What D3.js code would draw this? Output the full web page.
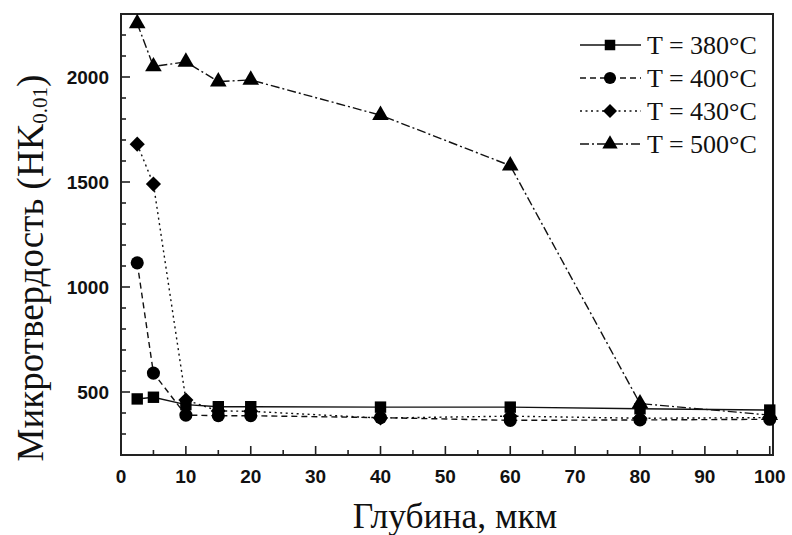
<!DOCTYPE html>
<html><head><meta charset="utf-8">
<script src="https://cdn.jsdelivr.net/npm/d3@7"></script>
<style>body{margin:0;background:#fff}</style>
</head><body>
<svg id="c" width="792" height="535"></svg>
<script>
const depths = [2.5, 5, 10, 15, 20, 40, 60, 80, 100];
const hv380 = [467, 475, 440, 430, 430, 428, 428, 420, 414];
const hv400 = [1115, 590, 390, 387, 387, 378, 365, 367, 370];
const hv430 = [1680, 1490, 462, 410, 408, 376, 385, 375, 378];
const hv500 = [2255, 2050, 2072, 1978, 1986, 1818, 1578, 445, 390];
const seriesLabels = ["T = 380°C", "T = 400°C", "T = 430°C", "T = 500°C"];
const xTicks = [0, 10, 20, 30, 40, 50, 60, 70, 80, 90, 100];
const yTicks = [500, 1000, 1500, 2000];
const xTitle = "Глубина, мкм";
const yTitle = "Микротвердость (HK";
const ySub = "0.01";

const svg = d3.select("#c");
const L = 121, R = 773, T = 14, B = 455;
const x = d3.scaleLinear().domain([0, 100.5]).range([L, R]);
const y = d3.scaleLinear().domain([200, 2300]).range([B, T]);

const series = [
  {vals: hv380, dash: null, sym: d3.symbolSquare, size: 130, rot: 0},
  {vals: hv400, dash: "6,4", sym: d3.symbolCircle, size: 135, rot: 0},
  {vals: hv430, dash: "2,3.5", sym: d3.symbolSquare, size: 115, rot: 45},
  {vals: hv500, dash: "9,3,2,3", sym: d3.symbolTriangle, size: 120, rot: 0}
];

// frame
svg.append("rect").attr("x", L).attr("y", T).attr("width", R - L).attr("height", B - T)
  .attr("fill", "none").attr("stroke", "#222").attr("stroke-width", 2);

// x ticks (inward)
const gx = svg.append("g");
d3.range(0, 101, 5).forEach(v => {
  const major = v % 10 === 0;
  gx.append("line").attr("x1", x(v)).attr("x2", x(v)).attr("y1", B).attr("y2", B - (major ? 9 : 5))
    .attr("stroke", "#222").attr("stroke-width", 1.6);
});
gx.selectAll("text.xt").data(xTicks).join("text").attr("class", "xt")
  .attr("x", d => x(d)).attr("y", 483).attr("text-anchor", "middle")
  .attr("font-family", "Liberation Sans, Arial, sans-serif").attr("font-weight", "bold")
  .attr("font-size", 19).attr("fill", "#111").text(d => d);

// y ticks (inward)
const gy = svg.append("g");
d3.range(300, 2300, 100).forEach(v => {
  const major = v % 500 === 0;
  gy.append("line").attr("x1", L).attr("x2", L + (major ? 9 : 5)).attr("y1", y(v)).attr("y2", y(v))
    .attr("stroke", "#222").attr("stroke-width", 1.6);
});
gy.selectAll("text.yt").data(yTicks).join("text").attr("class", "yt")
  .attr("x", 109).attr("y", d => y(d) + 7).attr("text-anchor", "end")
  .attr("font-family", "Liberation Sans, Arial, sans-serif").attr("font-weight", "bold")
  .attr("font-size", 19).attr("fill", "#111").text(d => d);

// lines and markers
const line = d3.line().x((d, i) => x(depths[i])).y(d => y(d));
series.forEach(s => {
  svg.append("path").datum(s.vals).attr("d", line).attr("fill", "none")
    .attr("stroke", "#111").attr("stroke-width", 1.4)
    .attr("stroke-dasharray", s.dash);
});
series.forEach(s => {
  svg.append("g").selectAll("path").data(s.vals).join("path")
    .attr("transform", (d, i) => `translate(${x(depths[i])},${y(d)}) rotate(${s.rot})`)
    .attr("d", d3.symbol().type(s.sym).size(s.size)).attr("fill", "#000");
});

// legend
const lg = svg.append("g");
const rows = [45, 78, 111, 144];
series.forEach((s, i) => {
  lg.append("line").attr("x1", 580).attr("x2", 641).attr("y1", rows[i]).attr("y2", rows[i])
    .attr("stroke", "#111").attr("stroke-width", 1.4).attr("stroke-dasharray", s.dash);
  lg.append("path").attr("transform", `translate(610,${rows[i]}) rotate(${s.rot})`)
    .attr("d", d3.symbol().type(s.sym).size(s.size * 0.85)).attr("fill", "#000");
  lg.append("text").attr("x", 647).attr("y", rows[i] + 9)
    .attr("font-family", "Liberation Serif, Times New Roman, serif").attr("font-size", 26)
    .attr("fill", "#111").text(seriesLabels[i]);
});

// axis titles
svg.append("text").attr("x", 455).attr("y", 528).attr("text-anchor", "middle")
  .attr("font-family", "Liberation Serif, Times New Roman, serif").attr("font-size", 35.5)
  .attr("fill", "#111").text(xTitle);

const yt = svg.append("text").attr("transform", "translate(43,268) rotate(-90)")
  .attr("text-anchor", "middle")
  .attr("font-family", "Liberation Serif, Times New Roman, serif").attr("font-size", 37)
  .attr("fill", "#111");
yt.append("tspan").text(yTitle);
yt.append("tspan").attr("font-size", 21).attr("dy", 4).text(ySub);
yt.append("tspan").attr("dy", -4).text(")");
</script>
</body></html>
